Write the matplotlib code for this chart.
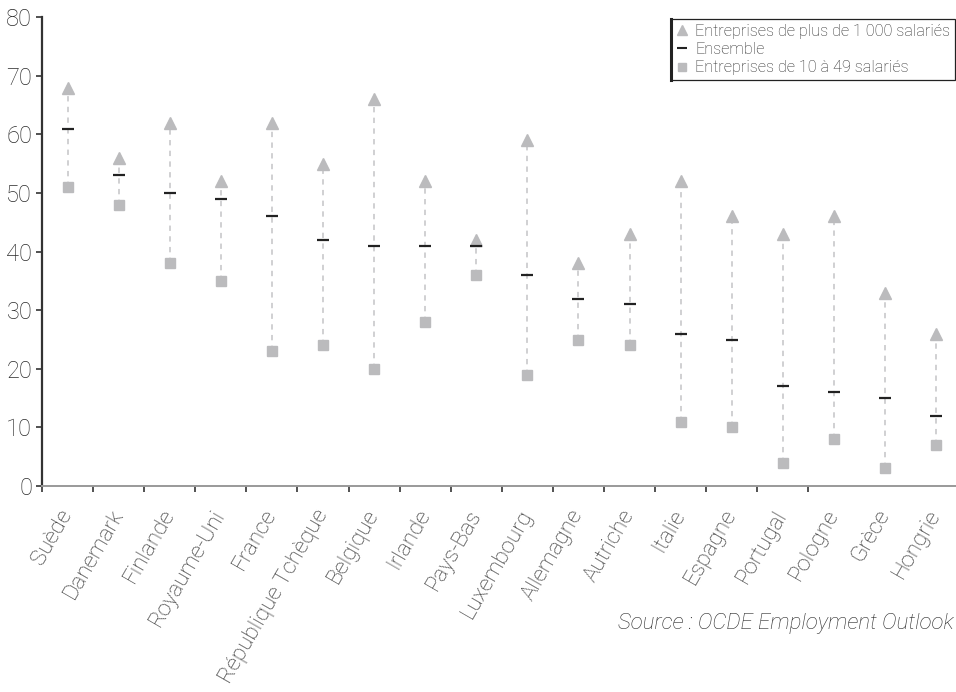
import matplotlib
matplotlib.use("Agg")
import matplotlib.pyplot as plt
from matplotlib.lines import Line2D
import numpy as np

plt.rcParams['font.family'] = ['Roboto', 'DejaVu Sans']

countries = ["Suède", "Danemark", "Finlande", "Royaume-Uni", "France",
             "République Tchèque", "Belgique", "Irlande", "Pays-Bas",
             "Luxembourg", "Allemagne", "Autriche", "Italie", "Espagne",
             "Portugal", "Pologne", "Grèce", "Hongrie"]
big = [68, 56, 62, 52, 62, 55, 66, 52, 42, 59, 38, 43, 52, 46, 43, 46, 33, 26]
total = [61, 53, 50, 49, 46, 42, 41, 41, 41, 36, 32, 31, 26, 25, 17, 16, 15, 12]
small = [51, 48, 38, 35, 23, 24, 20, 28, 36, 19, 25, 24, 11, 10, 4, 8, 3, 7]

yticks = [0, 10, 20, 30, 40, 50, 60, 70, 80]
legend_labels = ["Entreprises de plus de 1 000 salariés", "Ensemble",
                 "Entreprises de 10 à 49 salariés"]
source = "Source : OCDE Employment Outlook"

W, H = 956, 692
fig = plt.figure(figsize=(W / 100, H / 100), dpi=100)
ax = fig.add_axes([42 / W, 1 - 486 / H, (956 - 42) / W, (486 - 17.3) / H])

grey = "#bbbbbd"
dark = "#222222"
txt = "#2a2a2a"
FW = "light"

x = np.arange(len(countries))
for xi, b, s in zip(x, big, small):
    ax.plot([xi, xi], [s, b], color="#c4c4c6", lw=1.1, ls=(0, (3.5, 3.5)), zorder=1)
ax.plot(x, big, ls="none", marker="^", ms=8, color=grey, mec=grey, zorder=3)
ax.plot(x, small, ls="none", marker="s", ms=7.5, color=grey, mec=grey, zorder=3)
ax.plot(x, total, ls="none", marker="_", ms=8, mew=1.6, color=dark, zorder=4)

ax.set_xlim(-0.5, 17.39)
ax.set_ylim(0, 80)
ax.set_yticks(yticks)
ax.set_yticklabels([str(v) for v in yticks], fontsize=17, color=txt, fontweight=FW)
ax.set_xticks(x)
ax.set_xticklabels(countries, rotation=60, ha="right", va="center",
                   rotation_mode="anchor", fontsize=16, color=txt, fontweight=FW)
ax.tick_params(axis="x", which="major", length=0, pad=18)
ax.set_xticks(np.arange(16) - 0.5, minor=True)
ax.tick_params(axis="x", which="minor", length=4, width=1.2, color="#333333", direction="out")
ax.tick_params(axis="y", length=4, width=1.2, color="#333333", direction="out", pad=3)

for s in ["top", "right"]:
    ax.spines[s].set_visible(False)
ax.spines["left"].set_color("#333333")
ax.spines["left"].set_linewidth(1.6)
ax.spines["bottom"].set_color("#999999")
ax.spines["bottom"].set_linewidth(1.4)

handles = [
    Line2D([], [], ls="none", marker="^", ms=7, color=grey),
    Line2D([], [], ls="none", marker="_", ms=7, mew=1.5, color=dark),
    Line2D([], [], ls="none", marker="s", ms=6, color=grey),
]
leg = ax.legend(handles, legend_labels, loc="upper right",
                bbox_to_anchor=(955 / W, 1 - 19 / H), bbox_transform=fig.transFigure,
                borderaxespad=0, fancybox=False, frameon=True, framealpha=1,
                edgecolor="#222222", handlelength=0.8, handletextpad=0.4,
                labelspacing=0.2, borderpad=0.3, prop={"size": 11.7, "weight": FW})
leg.get_frame().set_linewidth(0.9)
for t in leg.get_texts():
    t.set_color(txt)

fig.canvas.draw()
bb = leg.get_window_extent().transformed(fig.transFigure.inverted())
fig.add_artist(Line2D([bb.x0, bb.x0], [bb.y0, bb.y1], color="#222222", lw=2.2,
                      transform=fig.transFigure))

fig.text(954 / W, 1 - 624 / H, source, ha="right", va="center", fontsize=16,
         style="italic", color=txt, fontweight=FW)

fig.savefig("out.png", dpi=100)
